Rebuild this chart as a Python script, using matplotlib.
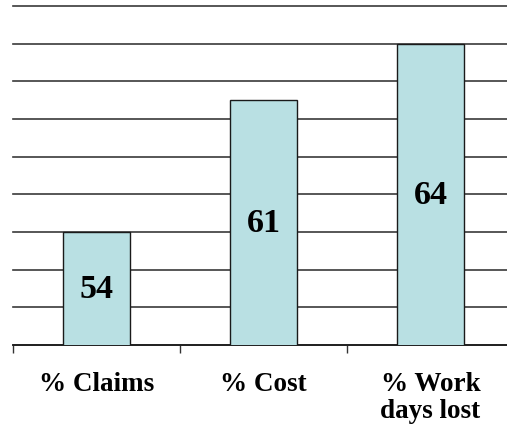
import matplotlib.pyplot as plt
import numpy as np

categorias = ['% Claims', '% Cost', '% Work\ndays lost']
valores = [54, 61, 64]

fig = plt.figure(figsize=(5.07, 4.27), dpi=100)
# el eje se extiende un poco mas alla del borde derecho, como en la imagen
ax = fig.add_axes([13 / 507, 1 - 346 / 427, 501 / 507, 339 / 427])

x = np.arange(len(categorias))
ax.bar(x, valores, width=0.4, color='#b9e0e3', edgecolor='#1a1a1a',
       linewidth=1.0, zorder=3)

ax.set_ylim(48, 66)
ax.set_xlim(-0.5, len(categorias) - 0.5)
ax.set_yticks(np.arange(48, 67, 2))
ax.yaxis.grid(True, color='#3a3a3a', linewidth=1.2, zorder=0)
for linea in ax.get_ygridlines():
    linea.set_clip_on(False)
ax.tick_params(axis='y', left=False, labelleft=False)

# marcas entre categorias
ax.set_xticks(np.arange(len(categorias) + 1) - 0.5)
ax.set_xticklabels([])
ax.tick_params(axis='x', direction='out', length=6, width=1, color='#333333')

for s in ['left', 'right', 'top']:
    ax.spines[s].set_visible(False)
ax.spines['bottom'].set_color('#1a1a1a')
ax.spines['bottom'].set_linewidth(1.2)

# valores dentro de las barras
for xi, v in zip(x, valores):
    ax.text(xi, (48 + v) / 2, str(v), ha='center', va='center',
            fontsize=24.5, fontweight='bold', family='Liberation Serif',
            zorder=4)

# etiquetas de categoria
for xi, c in zip(x, categorias):
    ax.text(xi, -0.078, c, transform=ax.get_xaxis_transform(), ha='center',
            va='top', fontsize=19.5, fontweight='bold',
            family='Liberation Serif', linespacing=1.1)

fig.savefig('out.png', dpi=100)
